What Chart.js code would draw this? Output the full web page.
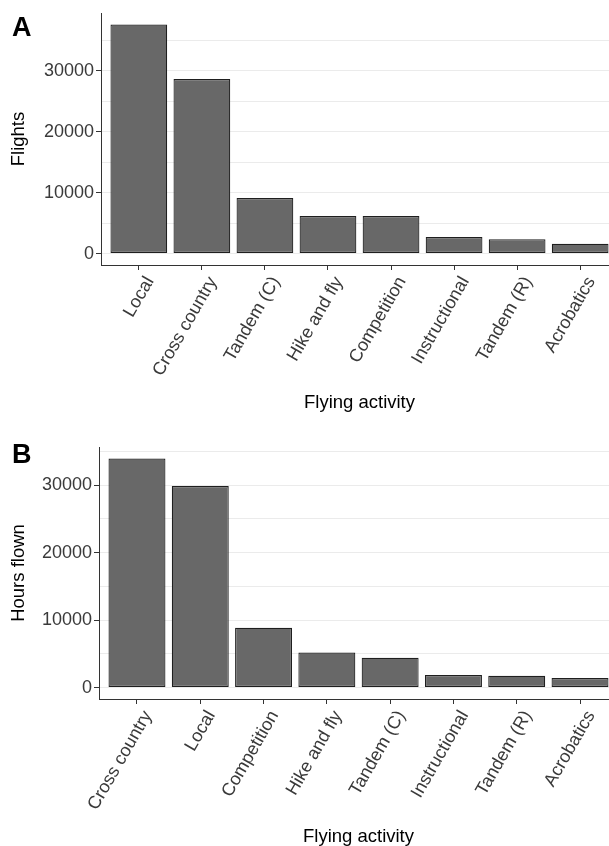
<!DOCTYPE html>
<html>
<head>
<meta charset="utf-8">
<script src="https://cdn.jsdelivr.net/npm/chart.js@4.4.0/dist/chart.umd.min.js"></script>
<style>
  html, body { margin: 0; padding: 0; background: #fff; }
  #wrap { position: relative; width: 609px; height: 846px; overflow: hidden; }
  #wrap canvas { position: absolute; left: 0; }
</style>
</head>
<body>
<div id="wrap">
  <canvas id="chartA" width="620" height="420" style="top:0px"></canvas>
  <canvas id="chartB" width="620" height="428" style="top:420px"></canvas>
</div>
<script>
// panel A: flights per activity
const catsA = ["Local", "Cross country", "Tandem (C)", "Hike and fly", "Competition", "Instructional", "Tandem (R)", "Acrobatics"];
const flights = [37600, 28650, 9100, 6150, 6150, 2700, 2350, 1600];

// panel B: hours flown per activity
const catsB = ["Cross country", "Local", "Competition", "Hike and fly", "Tandem (C)", "Instructional", "Tandem (R)", "Acrobatics"];
const hours = [33950, 29850, 8850, 5200, 4400, 1850, 1750, 1400];

// labelled ticks and (light) grid lines
const yTickLabels = [0, 10000, 20000, 30000];
const gridLines = [0, 5000, 10000, 15000, 20000, 25000, 30000, 35000];

const FONT = "'Liberation Sans', Arial, Helvetica, sans-serif";

const panelLetter = {
  id: "panelLetter",
  afterDraw: (chart, args, opts) => {
    const { ctx } = chart;
    ctx.save();
    ctx.fillStyle = "#000";
    ctx.font = "bold 27px " + FONT;
    ctx.textBaseline = "alphabetic";
    ctx.fillText(opts.text, opts.x, opts.y);
    ctx.restore();
  },
};

function makeChart(id, cats, values, yTitle, letter, lay) {
  const maxV = Math.max(...values);
  return new Chart(document.getElementById(id), {
    type: "bar",
    data: {
      datasets: [
        {
          data: values.map((v, i) => ({ x: i + 1, y: v })),
          backgroundColor: "#686868",
          borderColor: "#1f1f1f",
          borderWidth: 1.2,
          borderSkipped: false,
          barPercentage: 0.9,
          categoryPercentage: 1.0,
        },
      ],
    },
    options: {
      responsive: false,
      animation: false,
      layout: { padding: { top: lay.top, left: 0, right: 2, bottom: 0 } },
      scales: {
        x: {
          type: "linear",
          offset: false,
          min: 0.4,
          max: cats.length + 0.6,
          afterBuildTicks: (scale) => {
            scale.ticks = cats.map((c, i) => ({ value: i + 1 }));
          },
          afterFit: (scale) => {
            scale.height = lay.xh;
          },
          border: { display: true, color: "#333", width: 1 },
          grid: { offset: false, drawOnChartArea: false, drawTicks: true, tickLength: 5, tickColor: "#333" },
          ticks: {
            autoSkip: false,
            minRotation: 60,
            maxRotation: 60,
            padding: 3,
            labelOffset: 11,
            color: "#3a3a3a",
            font: { family: FONT, size: 18 },
            callback: (v) => cats[v - 1],
          },
          title: {
            display: true,
            text: "Flying activity",
            color: "#000",
            font: { family: FONT, size: 18.5 },
            padding: { top: 4, bottom: lay.titleB },
          },
        },
        y: {
          min: -0.05 * maxV,
          max: 1.05 * maxV,
          afterBuildTicks: (scale) => {
            scale.ticks = gridLines.filter((g) => g <= scale.max).map((g) => ({ value: g }));
          },
          afterFit: (scale) => {
            scale.width = lay.yw;
          },
          border: { display: true, color: "#333", width: 1 },
          grid: {
            color: "#ebebeb",
            lineWidth: 1,
            tickLength: 5,
            tickColor: (c) => (yTickLabels.includes(c.tick && c.tick.value) ? "#333" : "rgba(0,0,0,0)"),
          },
          ticks: {
            padding: 2,
            color: "#3a3a3a",
            font: { family: FONT, size: 18 },
            callback: (v) => (yTickLabels.includes(v) ? String(v) : ""),
          },
          title: {
            display: true,
            text: yTitle,
            color: "#000",
            font: { family: FONT, size: 18.5 },
            padding: { top: 8, bottom: 0 },
          },
        },
      },
      plugins: {
        legend: { display: false },
        tooltip: { enabled: false },
        panelLetter: { text: letter, x: 12, y: lay.letterY },
      },
    },
    plugins: [panelLetter],
  });
}

const chartA = makeChart("chartA", catsA, flights, "Flights", "A", { top: 13, yw: 101, xh: 155, titleB: 6, letterY: 36 });
const chartB = makeChart("chartB", catsB, hours, "Hours flown", "B", { top: 27, yw: 99, xh: 149, titleB: 0, letterY: 43 });
</script>
</body>
</html>
